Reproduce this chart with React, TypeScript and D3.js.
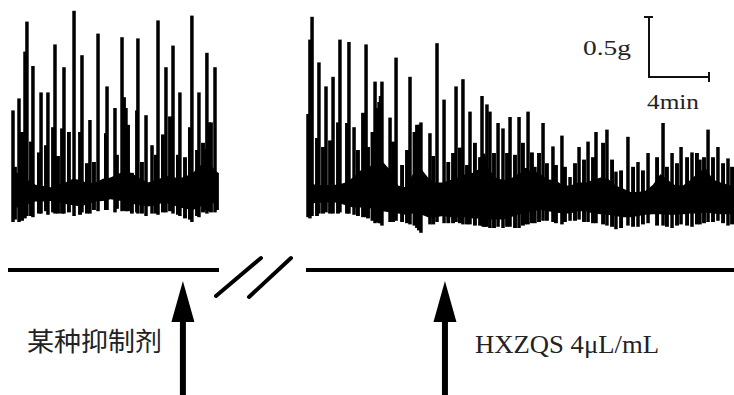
import * as d3 from 'd3';

// tension trace: grams vs minutes
// tall contractions: [time (min), peak (g), trough (g)]
const leftSpikes: [number, number, number][] = [
  [0.0, 0.98, 0.05], [0.4, 1.08, 0.05], [0.8, 1.47, 0.08], [0.93, 1.72, 0.1],
  [1.33, 1.35, 0.09], [1.87, 1.13, 0.12], [2.33, 1.13, 0.11], [2.8, 1.53, 0.12],
  [3.4, 1.34, 0.12], [4.07, 1.81, 0.1], [4.6, 1.44, 0.13], [5.13, 0.9, 0.12],
  [5.67, 1.62, 0.14], [6.27, 1.18, 0.15], [6.8, 1.0, 0.13], [7.27, 1.59, 0.14],
  [8.33, 1.58, 0.12], [8.87, 0.94, 0.1], [9.27, 0.69, 0.12], [9.67, 1.73, 0.11],
  [10.2, 1.34, 0.13], [10.67, 1.52, 0.12], [11.13, 1.13, 0.1], [11.93, 1.77, 0.05],
  [12.4, 1.13, 0.09], [12.93, 1.46, 0.12], [13.47, 1.34, 0.13],
];

// smaller contractions between the tall ones: [time, peak, trough]
const leftMinor: [number, number, number][] = [
  [0.13, 0.51, 0.07], [0.6, 0.8, 0.06], [1.2, 0.72, 0.1], [1.73, 0.63, 0.12], [2.2, 0.69, 0.14],
  [2.67, 0.84, 0.13], [3.0, 0.6, 0.12], [3.27, 0.83, 0.12], [3.73, 0.8, 0.13], [4.47, 0.8, 0.11],
  [4.93, 0.54, 0.12], [5.4, 0.55, 0.15], [6.2, 0.79, 0.15], [6.93, 0.61, 0.16], [7.4, 1.09, 0.15],
  [7.52, 1.0, 0.14], [7.67, 0.86, 0.14], [7.93, 0.46, 0.12], [8.27, 0.98, 0.13], [8.6, 0.55, 0.12],
  [9.53, 0.61, 0.12], [10.0, 0.78, 0.13], [10.47, 0.93, 0.14], [11.0, 0.61, 0.11], [11.47, 0.59, 0.08],
  [11.8, 0.84, 0.07], [12.27, 0.65, 0.1], [12.67, 0.71, 0.13], [12.8, 0.66, 0.15], [13.07, 0.88, 0.14],
  [13.2, 0.88, 0.13], [13.6, 0.46, 0.15],
];

// solid core of the baseline activity: [time, top, bottom]
const leftBand: [number, number, number][] = [
  [0, 0.47, 0.16], [0.5, 0.45, 0.18], [1, 0.4, 0.2], [1.5, 0.36, 0.22], [2, 0.35, 0.22],
  [2.5, 0.34, 0.225], [3, 0.36, 0.21], [3.5, 0.38, 0.2], [4, 0.41, 0.19], [4.5, 0.4, 0.18],
  [5, 0.37, 0.2], [5.5, 0.38, 0.22], [6, 0.41, 0.225], [6.5, 0.42, 0.24], [7, 0.45, 0.23],
  [7.5, 0.48, 0.22], [8, 0.45, 0.2], [8.5, 0.41, 0.19], [9, 0.38, 0.18], [9.5, 0.4, 0.19],
  [10, 0.42, 0.21], [10.5, 0.44, 0.2], [11, 0.41, 0.175], [11.5, 0.43, 0.16], [12, 0.46, 0.15],
  [12.5, 0.52, 0.18], [13, 0.55, 0.22], [13.5, 0.48, 0.2], [13.67, 0.46, 0.2],
];

const rightSpikes: [number, number, number][] = [
  [0.0, 0.95, 0.09], [0.13, 1.57, 0.08], [0.27, 1.76, 0.1], [0.73, 1.38, 0.12],
  [1.2, 1.18, 0.13], [1.67, 1.26, 0.12], [2.13, 1.57, 0.13], [2.73, 1.55, 0.12],
  [3.07, 0.84, 0.11], [3.87, 1.53, 0.09], [4.47, 1.22, 0.04], [4.93, 1.22, 0.02],
  [5.47, 0.92, 0.05], [5.87, 1.42, 0.06], [6.8, 1.26, 0.03], [7.53, 0.88, -0.04],
  [8.13, 0.79, 0.03], [8.6, 1.54, 0.05], [9.07, 1.07, 0.04], [9.87, 1.18, 0.05],
  [10.33, 1.24, 0.03], [10.8, 0.97, 0.03], [11.6, 1.1, 0.02], [11.93, 1.03, 0.01],
  [12.13, 0.97, 0.0], [12.67, 0.875, 0.01], [13.0, 0.83, 0.0], [13.47, 0.925, 0.01],
  [14.07, 0.925, 0.0], [14.67, 0.97, 0.03], [15.13, 0.51, 0.04], [15.67, 0.875, 0.06],
  [16.33, 0.68, 0.05], [16.93, 0.77, 0.03], [17.47, 0.425, 0.06], [18.07, 0.675, 0.07],
  [18.67, 0.72, 0.05], [19.2, 0.8, 0.04], [19.93, 0.82, 0.02], [20.53, 0.47, -0.01],
  [21.33, 0.76, 0.02], [22.0, 0.55, 0.01], [22.67, 0.625, 0.04], [23.67, 0.875, 0.02],
  [24.27, 0.625, 0.0], [24.87, 0.675, 0.03], [25.6, 0.63, 0.01], [26.13, 0.57, 0.03],
  [26.67, 0.82, 0.05], [27.33, 0.675, 0.06], [28.0, 0.58, 0.02],
];

const rightMinor: [number, number, number][] = [
  [0.6, 0.75, 0.1], [1.0, 0.675, 0.12], [1.47, 0.73, 0.12], [2.0, 0.88, 0.12], [2.6, 0.875, 0.12],
  [3.33, 0.65, 0.1], [3.67, 0.96, 0.09], [4.0, 0.675, 0.08], [4.3, 0.8, 0.06], [4.6, 1.0, 0.05],
  [4.75, 1.05, 0.04], [4.85, 1.1, 0.04], [5.67, 0.72, 0.05], [6.27, 0.525, 0.05], [6.6, 0.65, 0.04],
  [7.1, 0.8, 0.02], [7.27, 0.86, 0.0], [7.4, 0.86, -0.02], [8.35, 0.6, 0.03], [9.35, 0.55, 0.04],
  [9.67, 0.625, 0.04], [10.13, 0.67, 0.04], [10.6, 0.525, 0.03], [11.13, 0.71, 0.02], [11.47, 0.59, 0.02],
  [11.7, 0.62, 0.01], [11.8, 0.6, 0.01], [12.4, 0.625, 0.0], [13.27, 0.625, 0.01], [13.8, 0.61, 0.0],
  [14.33, 0.71, 0.02], [14.47, 0.5, 0.03], [14.93, 0.63, 0.04], [15.4, 0.625, 0.05], [15.93, 0.54, 0.06],
  [16.53, 0.525, 0.04], [17.13, 0.51, 0.05], [17.8, 0.54, 0.06], [18.4, 0.57, 0.05], [19.0, 0.59, 0.04],
  [19.67, 0.71, 0.03], [20.27, 0.57, 0.01], [20.87, 0.48, 0.0], [21.67, 0.51, 0.01], [22.33, 0.48, 0.03],
  [23.27, 0.59, 0.02], [23.93, 0.51, 0.01], [24.6, 0.54, 0.02], [25.27, 0.59, 0.02], [25.93, 0.625, 0.03],
  [26.4, 0.59, 0.04], [27.0, 0.59, 0.05], [27.67, 0.54, 0.04], [28.27, 0.51, 0.03],
];

const rightBand: [number, number, number][] = [
  [0, 0.38, 0.19], [0.5, 0.36, 0.21], [1, 0.355, 0.21], [1.5, 0.36, 0.215], [2, 0.36, 0.21],
  [2.5, 0.38, 0.19], [3, 0.42, 0.17], [3.5, 0.48, 0.17], [4, 0.5, 0.17], [4.5, 0.55, 0.15],
  [5, 0.55, 0.14], [5.5, 0.48, 0.13], [6, 0.355, 0.12], [6.5, 0.34, 0.11], [7, 0.45, 0.12],
  [7.5, 0.5, 0.115], [8, 0.42, 0.09], [8.5, 0.38, 0.09], [9, 0.38, 0.1], [9.5, 0.4, 0.09],
  [10, 0.42, 0.09], [10.5, 0.45, 0.09], [11, 0.46, 0.08], [11.5, 0.5, 0.08], [12, 0.5, 0.07],
  [12.5, 0.42, 0.07], [13, 0.4, 0.07], [13.5, 0.41, 0.09], [14, 0.45, 0.11], [14.5, 0.48, 0.12],
  [15, 0.48, 0.14], [15.5, 0.45, 0.15], [16, 0.405, 0.14], [16.5, 0.4, 0.13], [17, 0.355, 0.12],
  [17.5, 0.355, 0.12], [18, 0.38, 0.14], [18.5, 0.38, 0.14], [19, 0.4, 0.12], [19.5, 0.42, 0.115],
  [20, 0.41, 0.11], [20.5, 0.355, 0.1], [21, 0.33, 0.09], [21.5, 0.3, 0.09], [22, 0.3, 0.1],
  [22.5, 0.31, 0.11], [23, 0.36, 0.115], [23.5, 0.45, 0.115], [24, 0.4, 0.11], [24.5, 0.355, 0.11],
  [25, 0.355, 0.115], [25.5, 0.4, 0.12], [26, 0.46, 0.12], [26.5, 0.5, 0.13], [27, 0.405, 0.12],
  [27.5, 0.38, 0.115], [28, 0.36, 0.115], [28.4, 0.355, 0.115],
];

// when each agent was added (min, on its own segment's clock)
const inhibitorAt = 11.33;
const hxzqsAt = 9.13;
const inhibitorLabel = '某种抑制剂';
const hxzqsLabel = 'HXZQS 4μL/mL';
const scaleG = 0.5;
const scaleMin = 4;

const width = 734;
const height = 395;
const serif = '"Liberation Serif", "Times New Roman", serif';

const y = d3.scaleLinear().domain([-0.1, 1.8]).range([240, 12]);
const xLeft = d3.scaleLinear().domain([0, 13.67]).range([13, 218]);
const xRight = d3.scaleLinear().domain([0, 28.4]).range([308, 734]);

type Beat = [number, number, number];

function Trace(props: { x: d3.ScaleLinear<number, number>; band: Beat[]; spikes: Beat[]; minor: Beat[] }) {
  const { x, band, spikes, minor } = props;
  const area = d3
    .area<Beat>()
    .x((d) => x(d[0]))
    .y0((d) => y(d[2]))
    .y1((d) => y(d[1]));
  return (
    <g>
      <path d={area(band) ?? ''} fill="#000" />
      {minor.map((d, i) => (
        <line key={'m' + i} x1={x(d[0])} x2={x(d[0])} y1={y(d[2])} y2={y(d[1])} stroke="#000" strokeWidth={3.9} />
      ))}
      {spikes.map((d, i) => (
        <line key={'s' + i} x1={x(d[0])} x2={x(d[0])} y1={y(d[2])} y2={y(d[1])} stroke="#000" strokeWidth={3.5} />
      ))}
    </g>
  );
}

function Arrow(props: { x: number }) {
  const { x } = props;
  return (
    <g>
      <line x1={x} x2={x} y1={height} y2={318} stroke="#000" strokeWidth={6} />
      <path d={`M${x},281 L${x - 11.5},322 L${x + 11.5},322 Z`} fill="#000" />
    </g>
  );
}

export default function App() {
  const barX = 649;
  const barTop = 17;
  const barBottom = barTop + (y(0) - y(scaleG));
  const barRight = barX + (xRight(scaleMin) - xRight(0));
  return (
    <svg
      width={width}
      height={height}
      viewBox={`0 0 ${width} ${height}`}
      style={{ position: 'absolute', left: 0, top: 0, background: '#fff' }}
    >
      <Trace x={xLeft} band={leftBand} spikes={leftSpikes} minor={leftMinor} />
      <Trace x={xRight} band={rightBand} spikes={rightSpikes} minor={rightMinor} />

      {/* scale bar */}
      <g stroke="#111" strokeWidth={2} fill="none">
        <path d={`M${barX - 5},${barTop} H${barX + 4} M${barX},${barTop} V${barBottom} H${barRight}`} />
        <path d={`M${barRight},${barBottom - 5} V${barBottom + 5}`} />
      </g>
      <text x={583} y={55} fontFamily={serif} fontSize={21} textLength={48} lengthAdjust="spacingAndGlyphs" fill="#222">
        0.5g
      </text>
      <text x={647} y={109} fontFamily={serif} fontSize={22} textLength={52} lengthAdjust="spacingAndGlyphs" fill="#222">
        4min
      </text>

      {/* time lines with break */}
      <line x1={8} x2={219} y1={270} y2={270} stroke="#000" strokeWidth={4} />
      <line x1={306} x2={734} y1={270} y2={270} stroke="#000" strokeWidth={4} />
      <g stroke="#000" strokeWidth={4} strokeLinecap="round">
        <line x1={216} y1={296} x2={261} y2={258} />
        <line x1={249} y1={297} x2={291} y2={258} />
      </g>

      <Arrow x={xLeft(inhibitorAt)} />
      <Arrow x={xRight(hxzqsAt)} />

      <text x={27} y={351} fontFamily="'Noto Sans CJK SC', sans-serif" fontSize={26} textLength={135} lengthAdjust="spacingAndGlyphs" fill="#222">
        {inhibitorLabel}
      </text>
      <text x={475} y={353} fontFamily={serif} fontSize={26} textLength={184} lengthAdjust="spacingAndGlyphs" fill="#222">
        {hxzqsLabel}
      </text>
    </svg>
  );
}
